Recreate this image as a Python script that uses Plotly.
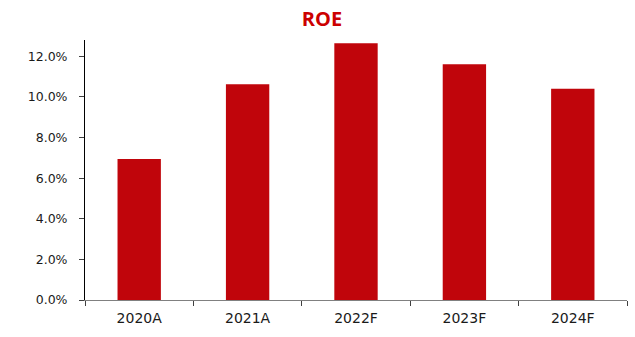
import plotly.graph_objects as go

categories = ["2020A", "2021A", "2022F", "2023F", "2024F"]
roe = [0.0694, 0.1062, 0.1264, 0.1161, 0.1040]
y_ticks = [0, 0.02, 0.04, 0.06, 0.08, 0.10, 0.12]
y_tick_labels = ["0.0%", "2.0%", "4.0%", "6.0%", "8.0%", "10.0%", "12.0%"]

fig = go.Figure(go.Bar(x=categories, y=roe, marker_color="#C0050B",
                       marker_line_width=0, width=0.4))

fig.update_layout(
    width=635, height=337,
    margin=dict(l=85, r=8, t=40, b=37),
    paper_bgcolor="white", plot_bgcolor="white",
    title=dict(text="<b>ROE</b>", x=0.507, xanchor="center", y=0.945, yanchor="middle",
               font=dict(family="Open Sans", size=20, color="#CC0000")),
    showlegend=False,
    font=dict(family="DejaVu Sans", size=12, color="#1a1a1a"),
)
fig.update_xaxes(type="category", showline=True, linecolor="#808080", linewidth=1,
                 ticks="outside", tickson="boundaries", ticklen=5, tickcolor="#404040",
                 showgrid=False, tickfont=dict(size=14), ticklabelstandoff=5)
fig.update_yaxes(range=[0, 0.128], tickvals=y_ticks, ticktext=y_tick_labels,
                 showline=True, linecolor="black", linewidth=1, ticks="outside",
                 ticklen=5, tickcolor="#404040", showgrid=False, zeroline=False,
                 tickfont=dict(size=12.5), ticklabelstandoff=9)

fig.write_html("out.html")
